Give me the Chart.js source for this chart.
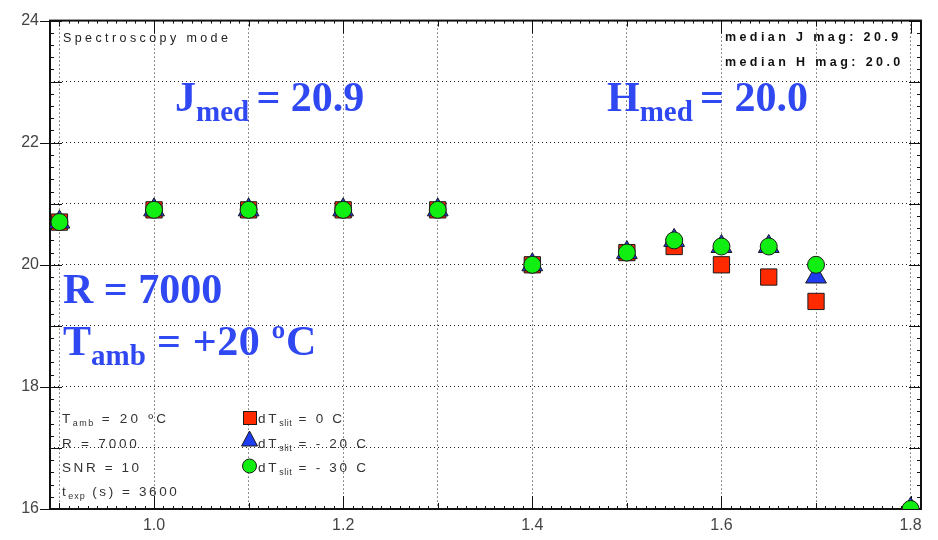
<!DOCTYPE html>
<html>
<head>
<meta charset="utf-8">
<script src="https://cdn.jsdelivr.net/npm/chart.js@4/dist/chart.umd.min.js"></script>
<style>
html,body{margin:0;padding:0;background:#fff;}
#wrap{width:938px;height:540px;position:relative;}
</style>
</head>
<body>
<div id="wrap"><canvas id="c" width="938" height="540"></canvas></div>
<script>
// ---- data ----
const wavelengths = [0.9, 1.0, 1.1, 1.2, 1.3, 1.4, 1.5, 1.55, 1.6, 1.65, 1.7, 1.8];
const magSlit0   = [20.7, 20.9, 20.9, 20.9, 20.9, 20.0, 20.2, 20.3, 20.0, 19.8, 19.4, null];
const magSlit20  = [20.7, 20.9, 20.9, 20.9, 20.9, 20.0, 20.2, 20.4, 20.3, 20.3, 19.8, 16.0];
const magSlit30  = [20.7, 20.9, 20.9, 20.9, 20.9, 20.0, 20.2, 20.4, 20.3, 20.3, 20.0, 16.0];
const seriesNames = ['dT slit = 0 C', 'dT slit = - 20 C', 'dT slit = - 30 C'];
const xTickLabels = ['1.0', '1.2', '1.4', '1.6', '1.8'];
const yTickLabels = ['16', '18', '20', '22', '24'];

const pts = arr => wavelengths.map((x, i) => ({x: x, y: arr[i]}));

const BLUE_TXT = '#3048f2';
const RED = '#ff2a00', BLU = '#1e3cf0', GRN = '#11ee11', EDGE = '#1a1a1a';

function richText(ctx, x, base, segs, family, weight, spacing, color) {
  ctx.save();
  ctx.fillStyle = color;
  ctx.textBaseline = 'alphabetic';
  ctx.textAlign = 'left';
  let cx = x;
  for (const s of segs) {
    ctx.font = (s.w || weight) + ' ' + s.s + 'px ' + family;
    ctx.letterSpacing = (s.ls !== undefined ? s.ls : spacing) + 'px';
    ctx.fillText(s.t, cx, base + (s.dy || 0));
    cx += ctx.measureText(s.t).width + (s.gap || 0);
  }
  ctx.restore();
  return cx;
}

const framePlugin = {
  id: 'frame',
  beforeDatasetsDraw(chart) {
    const ctx = chart.ctx, a = chart.chartArea;
    const xs = chart.scales.x, ys = chart.scales.y;
    ctx.save();
    ctx.strokeStyle = '#111';
    ctx.lineWidth = 1;
    ctx.beginPath();
    // x ticks (bottom and top, inward)
    for (let k = 89; k <= 181; k++) {
      const v = k / 100;
      const px = Math.round(xs.getPixelForValue(v)) + 0.5;
      let len = 3;
      if (k % 20 === 0) len = 13; else if (k % 10 === 0) len = 6;
      ctx.moveTo(px, a.bottom); ctx.lineTo(px, a.bottom - len);
      ctx.moveTo(px, a.top); ctx.lineTo(px, a.top + len);
    }
    // y ticks (left and right)
    for (let k = 80; k <= 120; k++) {
      const v = k / 5;
      const py = Math.round(ys.getPixelForValue(v)) + 0.5;
      let lenIn = 4, lenOut = 0;
      if (k % 10 === 0) { lenIn = 12; lenOut = 10; }
      else if (k % 5 === 0) { lenIn = 12; }
      ctx.moveTo(a.left - lenOut, py); ctx.lineTo(a.left + lenIn, py);
      ctx.moveTo(a.right, py); ctx.lineTo(a.right - lenIn, py);
    }
    ctx.stroke();
    ctx.lineWidth = 2;
    ctx.strokeRect(a.left, a.top, a.right - a.left, a.bottom - a.top);
    ctx.restore();
  },
  afterDraw(chart) {
    const ctx = chart.ctx;
    const serif = '"Liberation Serif", "Times New Roman", serif';
    const sans = '"Liberation Sans", Arial, sans-serif';
    // big blue annotations
    richText(ctx, 175, 111, [{t:'J', s:42}, {t:'med ', s:29, dy:10}, {t:'= 20.9', s:42}], serif, 'bold', 0, BLUE_TXT);
    richText(ctx, 607, 111, [{t:'H', s:42}, {t:'med ', s:29, dy:10}, {t:'= 20.0', s:42}], serif, 'bold', 0, BLUE_TXT);
    richText(ctx, 63, 303, [{t:'R = 7000', s:42}], serif, 'bold', 0, BLUE_TXT);
    richText(ctx, 63, 355, [{t:'T', s:42}, {t:'amb ', s:29, dy:10, gap:4}, {t:'= +20 ºC', s:42, ls:0.6}], serif, 'bold', 0, BLUE_TXT);
    // small texts
    richText(ctx, 63, 42, [{t:'Spectroscopy mode', s:12.5}], sans, 'normal', 3.4, '#222');
    richText(ctx, 725, 41, [{t:'median J mag: 20.9', s:12.5}], sans, 'bold', 3.4, '#111');
    richText(ctx, 725, 66, [{t:'median H mag: 20.0', s:12.5}], sans, 'bold', 3.4, '#111');
    // bottom-left info
    richText(ctx, 62, 423, [{t:'T', s:13.5}, {t:'amb', s:9, dy:3, ls:1.5}, {t:' = 20 ºC', s:13.5, ls:3.2}], sans, 'normal', 2.6, '#333');
    richText(ctx, 62, 448, [{t:'R = 7000', s:13.5}], sans, 'normal', 2.8, '#333');
    richText(ctx, 62, 472, [{t:'SNR = 10', s:13.5}], sans, 'normal', 2.6, '#333');
    richText(ctx, 62, 496, [{t:'t', s:13.5}, {t:'exp', s:9, dy:3, ls:1}, {t:' (s) = 3600', s:13.5}], sans, 'normal', 2.6, '#333');
    // legend markers
    ctx.save();
    ctx.strokeStyle = EDGE; ctx.lineWidth = 1;
    ctx.fillStyle = RED;
    ctx.fillRect(243, 411, 14, 14); ctx.strokeRect(243.5, 411.5, 13, 13);
    ctx.fillStyle = BLU;
    ctx.beginPath(); ctx.moveTo(249.5, 431); ctx.lineTo(257.5, 446); ctx.lineTo(241.5, 446); ctx.closePath(); ctx.fill(); ctx.stroke();
    ctx.fillStyle = GRN;
    ctx.beginPath(); ctx.arc(249.5, 466, 7, 0, Math.PI * 2); ctx.fill(); ctx.stroke();
    ctx.restore();
    const lb = [423, 448, 472];
    const tails = [' = 0 C', ' = - 20 C', ' = - 30 C'];
    for (let i = 0; i < 3; i++) {
      richText(ctx, 258, lb[i], [{t:'dT', s:13.5}, {t:'slit', s:9, dy:3, ls:0.5}, {t:tails[i], s:13.5}], sans, 'normal', 2.7, '#333');
    }
  }
};

new Chart(document.getElementById('c'), {
  type: 'scatter',
  data: {
    datasets: [
      {label: seriesNames[0], data: pts(magSlit0), pointStyle: 'rect', pointRadius: 11.5, pointHoverRadius: 11.5,
       backgroundColor: RED, borderColor: EDGE, borderWidth: 1, order: 3, clip: 0},
      {label: seriesNames[1], data: pts(magSlit20), pointStyle: 'triangle', pointRadius: 12, pointHoverRadius: 12,
       backgroundColor: BLU, borderColor: EDGE, borderWidth: 1, order: 2, clip: 0},
      {label: seriesNames[2], data: pts(magSlit30), pointStyle: 'circle', pointRadius: 8.5, pointHoverRadius: 8.5,
       backgroundColor: GRN, borderColor: EDGE, borderWidth: 1, order: 1, clip: 0}
    ]
  },
  options: {
    responsive: false,
    animation: false,
    events: [],
    layout: {padding: {top: 18, right: 17, left: 0, bottom: 0}},
    plugins: {legend: {display: false}, tooltip: {enabled: false}, title: {display: false}},
    scales: {
      x: {
        type: 'linear', min: 0.89, max: 1.811,
        afterFit(s) { s.height = 31; },
        grid: {color: '#222', lineWidth: 1, drawTicks: false},
        border: {display: false, dash: [1, 3]},
        ticks: {
          stepSize: 0.1, includeBounds: false, autoSkip: false, maxRotation: 0, padding: 7,
          color: '#444', font: {family: '"Liberation Sans", Arial, sans-serif', size: 16},
          callback(v) { const lbl = (Math.round(v * 10) / 10).toFixed(1); return xTickLabels.includes(lbl) ? lbl : ''; }
        }
      },
      y: {
        type: 'linear', min: 16, max: 24,
        afterFit(s) { s.width = 50; },
        grid: {color: '#222', lineWidth: 1, drawTicks: false},
        border: {display: false, dash: [1, 3]},
        ticks: {
          stepSize: 1, includeBounds: false, autoSkip: false, padding: 11,
          color: '#444', font: {family: '"Liberation Sans", Arial, sans-serif', size: 16},
          callback(v) { const lbl = String(Math.round(v)); return yTickLabels.includes(lbl) ? lbl : ''; }
        }
      }
    }
  },
  plugins: [framePlugin]
});
</script>
</body>
</html>
